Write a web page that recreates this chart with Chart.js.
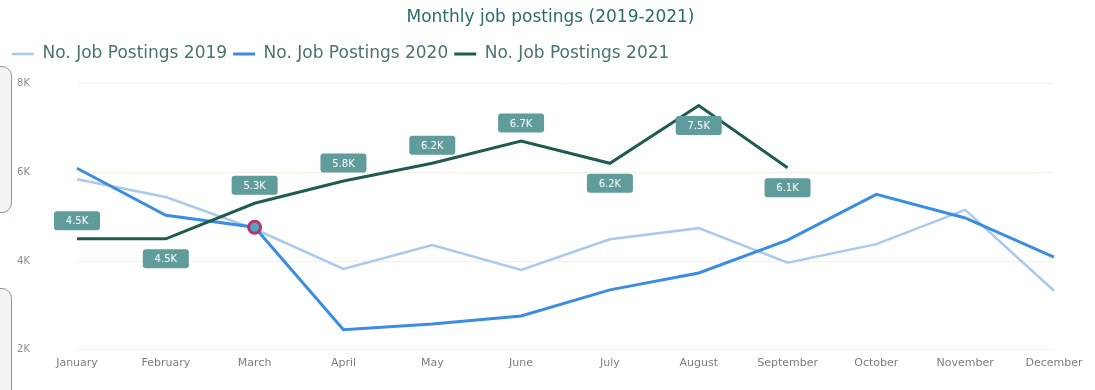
<!DOCTYPE html>
<html>
<head>
<meta charset="utf-8">
<title>Monthly job postings</title>
<script src="https://cdn.jsdelivr.net/npm/chart.js@4.4.1/dist/chart.umd.min.js"></script>
<style>
    html, body {
        margin: 0;
        padding: 0;
        background: #fff;
        overflow: hidden;
    }
    .wrap {
        position: relative;
        width: 1095px;
        height: 390px;
    }
    /* neighbouring card edges on the left of the report page */
    .side-card {
        position: absolute;
        left: -20px;
        width: 30px;
        border: 1.5px solid #8d9995;
        border-radius: 10px;
        background: #f1f4f2;
    }
    canvas {
        position: absolute;
        left: 0;
        top: 0;
    }
</style>
</head>
<body>
<div class="wrap">
    <div class="side-card" style="top: 66px; height: 145px;"></div>
    <div class="side-card" style="top: 288px; height: 120px;"></div>
    <canvas id="jobsChart" width="1095" height="390"></canvas>
</div>
<script>
const months = ['January', 'February', 'March', 'April', 'May', 'June',
    'July', 'August', 'September', 'October', 'November', 'December'];

const postings2019 = [5840, 5440, 4720, 3820, 4360, 3800, 4490, 4740, 3960, 4380, 5150, 3330];
const postings2020 = [6090, 5030, 4760, 2450, 2580, 2760, 3350, 3730, 4470, 5500, 4970, 4090];
const postings2021 = [4500, 4500, 5300, 5800, 6200, 6700, 6200, 7500, 6100];

const yTicks = [2000, 4000, 6000, 8000];

// label boxes for 2021 sit above (-1) or below (+1) the point
const labelSide = [-1, 1, -1, -1, -1, -1, 1, 1, 1];

// the highlighted month on the 2020 line
const markedIndex = 2;

function formatK(v) {
    return (v / 1000).toFixed(1) + 'K';
}

const dataLabels = {
    id: 'dataLabels',
    afterDatasetsDraw(chart) {
        const ctx = chart.ctx;
        const meta = chart.getDatasetMeta(2);
        ctx.save();
        ctx.font = '10px "DejaVu Sans"';
        ctx.textAlign = 'center';
        ctx.textBaseline = 'middle';
        meta.data.forEach((pt, i) => {
            const cx = pt.x;
            const cy = pt.y + (labelSide[i] < 0 ? -18 : 20);
            const w = 46, h = 19;
            ctx.fillStyle = '#5f9c9b';
            ctx.beginPath();
            ctx.roundRect(cx - w / 2, cy - h / 2, w, h, 3);
            ctx.fill();
            ctx.fillStyle = '#ffffff';
            ctx.fillText(formatK(postings2021[i]), cx, cy + 1);
        });
        ctx.restore();
    }
};

// extra room between the legend row and the plot
const legendGap = {
    id: 'legendGap',
    beforeInit(chart) {
        const fit = chart.legend.fit;
        chart.legend.fit = function () {
            fit.bind(chart.legend)();
            this.height += 11;
        };
    }
};

const blue2020 = '#3a8de3';

new Chart(document.getElementById('jobsChart'), {
    type: 'line',
    data: {
        labels: months,
        datasets: [
            {
                label: 'No. Job Postings 2019',
                data: postings2019,
                borderColor: '#a9c9ee',
                backgroundColor: '#a9c9ee',
                borderWidth: 2.5,
                pointRadius: 0,
                order: 3
            },
            {
                label: 'No. Job Postings 2020',
                data: postings2020,
                borderColor: blue2020,
                backgroundColor: blue2020,
                borderWidth: 3,
                pointRadius: postings2020.map((_, i) => i === markedIndex ? 6 : 0),
                pointBackgroundColor: '#4fa6bf',
                pointBorderColor: postings2020.map((_, i) => i === markedIndex ? '#b8336d' : blue2020),
                pointBorderWidth: 3,
                order: 2
            },
            {
                label: 'No. Job Postings 2021',
                data: postings2021,
                borderColor: '#1f5c50',
                backgroundColor: '#1f5c50',
                borderWidth: 3,
                pointRadius: 0,
                order: 1
            }
        ]
    },
    options: {
        responsive: false,
        animation: false,
        layout: {
            padding: { top: 0, left: 6, right: 0, bottom: 13 }
        },
        plugins: {
            title: {
                display: true,
                text: 'Monthly job postings (2019-2021)',
                color: '#2b6b6e',
                font: { family: 'DejaVu Sans', size: 17, weight: 'normal' },
                padding: { top: 7, bottom: 12 }
            },
            legend: {
                display: true,
                align: 'start',
                labels: {
                    usePointStyle: true,
                    pointStyle: 'line',
                    pointStyleWidth: 22,
                    color: '#4a7273',
                    font: { family: 'DejaVu Sans', size: 17 },
                    padding: 6,
                    sort: (a, b) => a.datasetIndex - b.datasetIndex
                }
            },
            tooltip: { enabled: false }
        },
        scales: {
            x: {
                offset: false,
                grid: { display: false, drawTicks: false },
                border: { display: false },
                ticks: {
                    color: '#7d7d7d',
                    font: { family: 'DejaVu Sans', size: 11 },
                    padding: 7,
                    maxRotation: 0,
                    autoSkip: false
                }
            },
            y: {
                min: 2000,
                max: 8000,
                afterBuildTicks(scale) {
                    scale.ticks = yTicks.map(v => ({ value: v }));
                },
                afterFit(scale) {
                    // labels sit well left of the plot; keep the wide
                    // tick padding from pushing the plot edges inwards
                    scale.width = 71;
                    scale.paddingTop = 0;
                    scale.paddingBottom = 0;
                },
                grid: { color: '#f5f0e4', drawTicks: false },
                border: { display: false },
                ticks: {
                    color: '#8a8a8a',
                    font: { family: 'DejaVu Sans', size: 10 },
                    padding: 47,
                    callback: v => (v / 1000) + 'K'
                }
            },
            // empty right-hand margin so December ends short of the edge
            yRight: {
                position: 'right',
                afterFit(scale) {
                    scale.width = 41;
                },
                grid: { display: false, drawTicks: false },
                border: { display: false },
                ticks: { display: false }
            }
        }
    },
    plugins: [dataLabels, legendGap]
});
</script>
</body>
</html>
